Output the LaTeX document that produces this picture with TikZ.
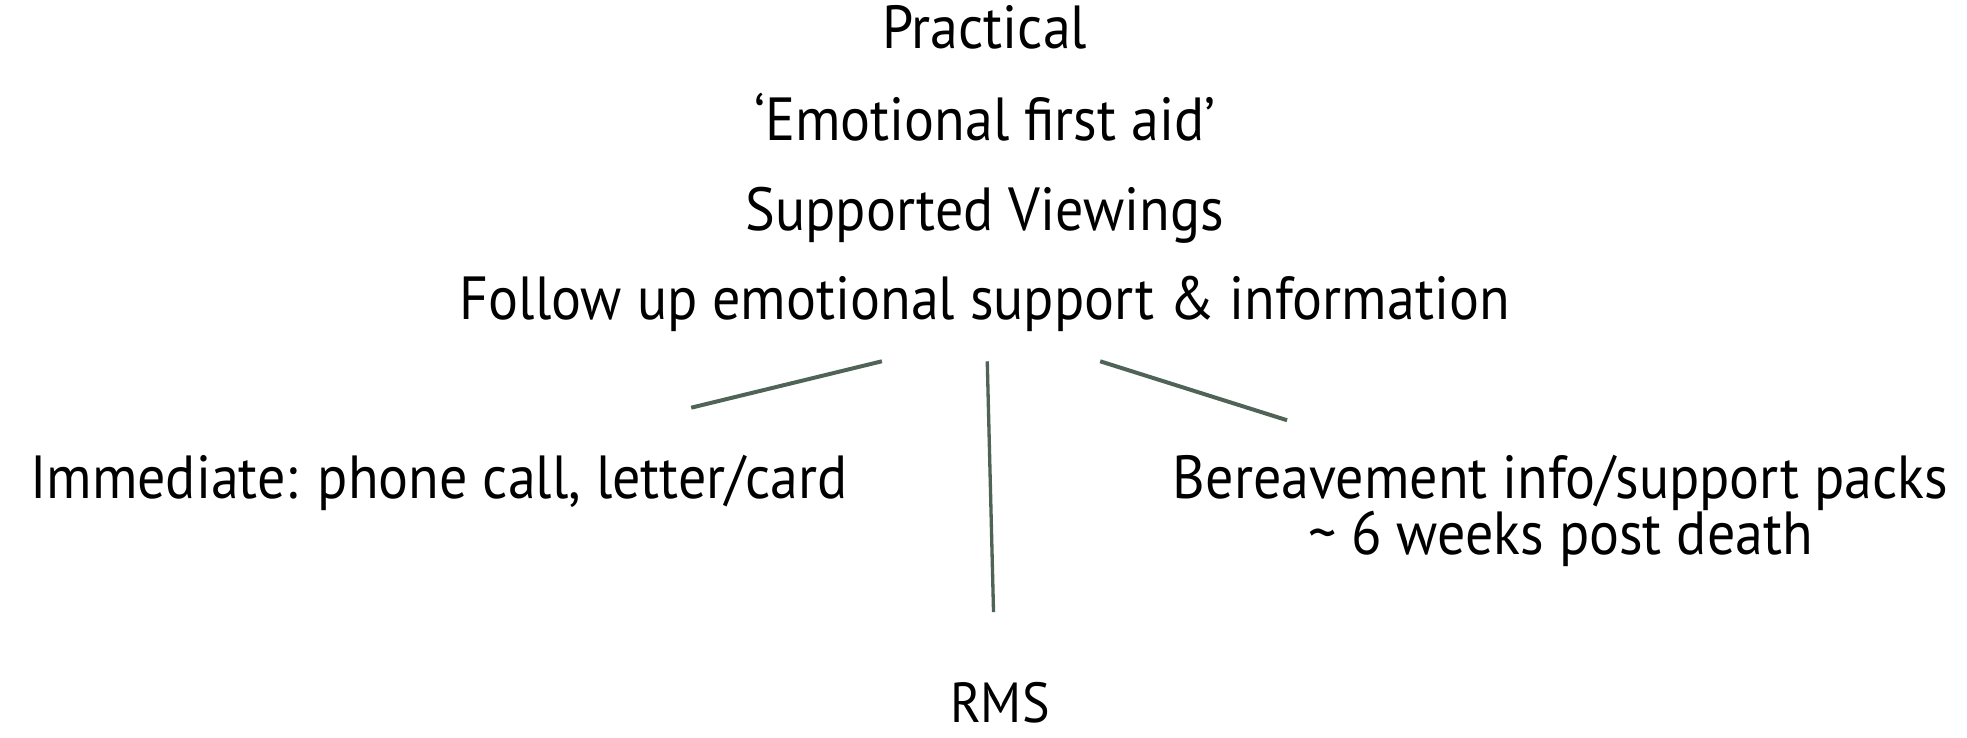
\documentclass[tikz,border=0pt]{standalone}
\usepackage{fontspec}
\setmainfont{PT Sans}[FakeStretch=0.92]
\usepackage{tikz}
\definecolor{branchGreen}{HTML}{4F6356}

\begin{document}
\begin{tikzpicture}[x=0.01cm, y=-0.01cm,
  item/.style={font=\fontsize{13.8}{16}\selectfont, anchor=base, inner sep=0pt},
  branch/.style={branchGreen, line width=0.9pt}]
  \useasboundingbox (0,0) rectangle (1568,588);

  % Main list
  \node[item] (practical) at (785,39) {Practical};
  \node[item] (firstaid) at (785,112) {‘Emotional first aid’};
  \node[item] (viewings) at (785,184) {Supported Viewings};
  \node[item] (followup) at (785,255) {Follow up emotional support \& information};

  % Branch ends
  \coordinate (leftTop) at (703,288);
  \coordinate (leftEnd) at (551,325);
  \coordinate (midTop) at (787,288);
  \coordinate (midEnd) at (792,488);
  \coordinate (rightTop) at (877,288);
  \coordinate (rightEnd) at (1026,335);
  \draw[branch] (leftTop) -- (leftEnd);
  \draw[branch, line width=0.75pt] (midTop) -- (midEnd);
  \draw[branch] (rightTop) -- (rightEnd);

  % Branch labels
  \node[item] (immediate) at (350,397) {Immediate: phone call, letter/card};
  \node[item] (packs) at (1244,397) {Bereavement info/support packs};
  \node[item] (weeks) at (1244,442) {\textasciitilde{} 6 weeks post death};
  \node[item, font=\fontsize{12.8}{14}\selectfont] (rms) at (797,576) {RMS};
\end{tikzpicture}
\end{document}
